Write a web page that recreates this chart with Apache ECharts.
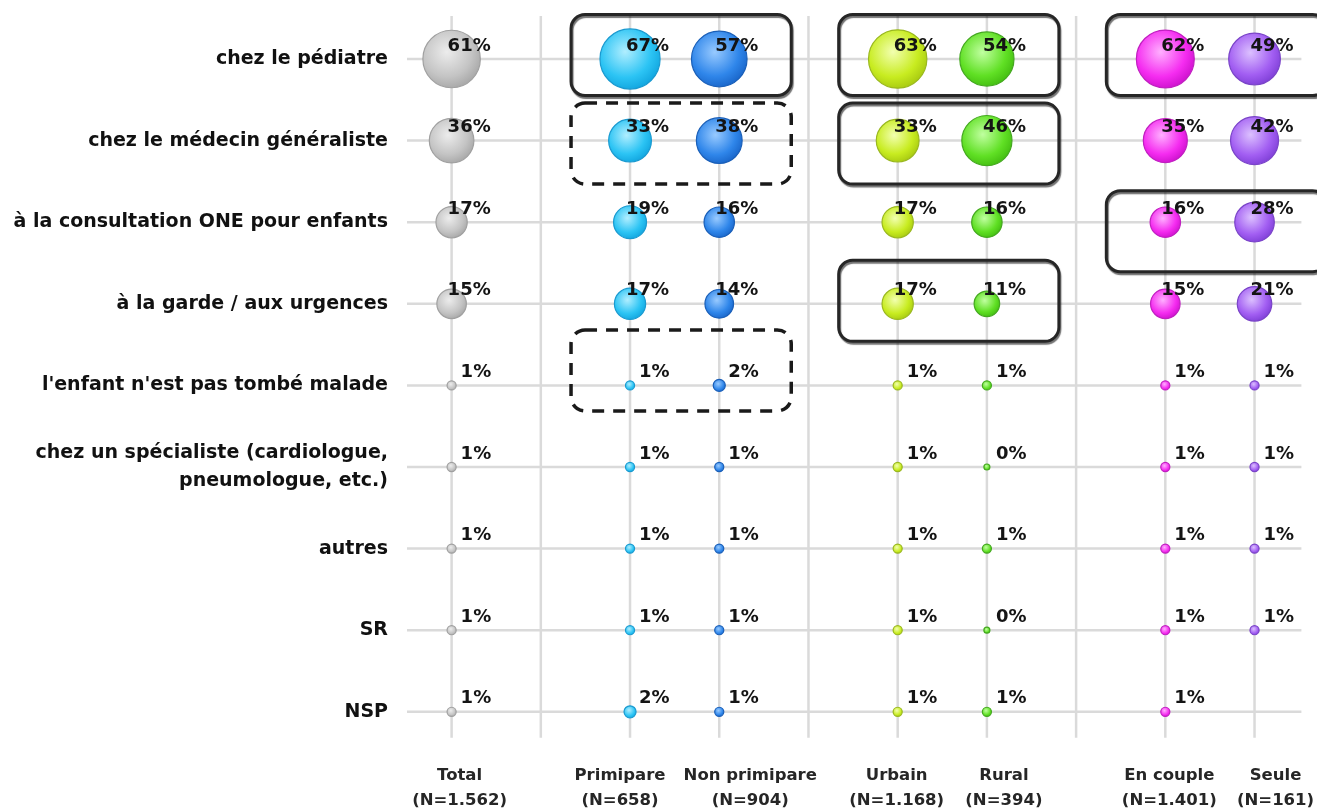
<!DOCTYPE html>
<html>
<head>
<meta charset="utf-8">
<script src="https://cdn.jsdelivr.net/npm/echarts@6/dist/echarts.min.js"></script>
<style>
html,body{margin:0;padding:0;background:#fff;}
#c{width:1317px;height:812px;}
</style>
</head>
<body>
<div id="c"></div>
<script>
// ---- data ----
const rowLabels = [
  'chez le pédiatre',
  'chez le médecin généraliste',
  'à la consultation ONE pour enfants',
  'à la garde / aux urgences',
  "l'enfant n'est pas tombé malade",
  'chez un spécialiste (cardiologue,\npneumologue, etc.)',
  'autres',
  'SR',
  'NSP'
];
const colLabels = ['Total', 'Primipare', 'Non primipare', 'Urbain', 'Rural', 'En couple', 'Seule'];
const colN = ['(N=1.562)', '(N=658)', '(N=904)', '(N=1.168)', '(N=394)', '(N=1.401)', '(N=161)'];
const total      = [61, 36, 17, 15, 1, 1, 1, 1, 1];
const primipare  = [67, 33, 19, 17, 1, 1, 1, 1, 2];
const nonPrim    = [57, 38, 16, 14, 2, 1, 1, 1, 1];
const urbain     = [63, 33, 17, 17, 1, 1, 1, 1, 1];
const rural      = [54, 46, 16, 11, 1, 0, 1, 0, 1];
const enCouple   = [62, 35, 16, 15, 1, 1, 1, 1, 1];
const seule      = [49, 42, 28, 21, 1, 1, 1, 1, null];
const columns = [total, primipare, nonPrim, urbain, rural, enCouple, seule];
// highlighted groups: row, first column, last column, dashed
const groups = [
  {row: 0, from: 1, to: 2, dashed: false},
  {row: 1, from: 1, to: 2, dashed: true},
  {row: 0, from: 3, to: 4, dashed: false},
  {row: 1, from: 3, to: 4, dashed: false},
  {row: 3, from: 3, to: 4, dashed: false},
  {row: 0, from: 5, to: 6, dashed: false},
  {row: 2, from: 5, to: 6, dashed: false},
  {row: 4, from: 1, to: 2, dashed: true}
];

// ---- layout / style ----
const FONT = 'DejaVu Sans, Verdana, sans-serif';
const slotOfCol = [0, 2, 3, 5, 6, 8, 9];
const labelShift = [8, -10, 31, -1, 17, 4, 21];
const nSlots = 10;
const xSlots = [];
for (let i = 0; i < nSlots; i++) xSlots.push('s' + i);
const palette = [
  {base: '#c4c4c4', light: '#ececec', dark: '#a6a6a6', border: '#a0a0a0'},
  {base: '#2cc4f4', light: '#b0eeff', dark: '#10a4de', border: '#1a9ad0'},
  {base: '#2f86ea', light: '#98caff', dark: '#1864c8', border: '#1a5fb8'},
  {base: '#c8ec20', light: '#f2ffb0', dark: '#a6c810', border: '#9ab820'},
  {base: '#60e024', light: '#c0ffa0', dark: '#42bc10', border: '#44a820'},
  {base: '#f52cf0', light: '#ffb0ff', dark: '#cc10cc', border: '#c020c0'},
  {base: '#a25ef2', light: '#dcc0ff', dark: '#7e3ed6', border: '#7a44c8'}
];
const groupShift = [-4, 3, -4, 3, -3, -4, 9, -15];
const sizeOf = v => Math.max(6, 2 + 7.1 * Math.sqrt(v));

const series = columns.map((vals, c) => {
  const col = palette[c];
  const data = [];
  vals.forEach((v, r) => {
    if (v === null || v === undefined) return;
    const s = sizeOf(v);
    data.push({
      value: [slotOfCol[c], r, v],
      label: {offset: [s < 16 ? 9 : -4, -13]}
    });
  });
  return {
    type: 'scatter',
    name: colLabels[c],
    data: data,
    symbolSize: val => sizeOf(val[2]),
    itemStyle: {
      color: {
        type: 'radial', x: 0.42, y: 0.38, r: 0.65,
        colorStops: [
          {offset: 0, color: col.light},
          {offset: 0.65, color: col.base},
          {offset: 1, color: col.dark}
        ]
      },
      borderColor: col.border,
      borderWidth: 1.2,
      opacity: 1
    },
    label: {
      show: true,
      position: 'inside',
      align: 'left',
      verticalAlign: 'middle',
      formatter: p => p.value[2] + '%',
      fontFamily: FONT,
      fontSize: 18,
      fontWeight: 'bold',
      color: '#141414'
    },
    emphasis: {disabled: true},
    z: 5
  };
});

const rich = {};
labelShift.forEach((dx, c) => {
  const pad = dx >= 0 ? [0, 0, 0, 2 * dx] : [0, -2 * dx, 0, 0];
  const st = {fontFamily: FONT, fontSize: 16.5, fontWeight: 'bold', color: '#262626', lineHeight: 25, padding: pad};
  rich['a' + c] = st;
  rich['b' + c] = Object.assign({}, st);
});

const chart = echarts.init(document.getElementById('c'), null, {renderer: 'canvas'});
chart.setOption({
  animation: false,
  backgroundColor: '#ffffff',
  grid: {left: 407, right: 15.6, top: 18.2, bottom: 59.4, containLabel: false},
  xAxis: {
    type: 'category',
    data: xSlots,
    boundaryGap: true,
    axisLine: {show: false},
    axisTick: {show: false},
    splitLine: {show: false},
    axisLabel: {
      interval: 0,
      margin: 11,
      formatter: (val, idx) => {
        const c = slotOfCol.indexOf(idx);
        if (c < 0) return '';
        return '{a' + c + '|' + colLabels[c] + '}\n{b' + c + '|' + colN[c] + '}';
      },
      rich: rich
    }
  },
  yAxis: {
    type: 'category',
    data: rowLabels,
    inverse: true,
    boundaryGap: true,
    axisLine: {show: false},
    axisTick: {show: false},
    splitLine: {show: false},
    axisLabel: {
      interval: 0,
      margin: 19,
      fontFamily: FONT,
      fontSize: 19,
      fontWeight: 'bold',
      color: '#111',
      lineHeight: 28,
      align: 'right'
    }
  },
  series: series
});

// grid lines and group frames, positioned through the chart's own scales
const px = slot => chart.convertToPixel({xAxisIndex: 0}, slot);
const py = row => chart.convertToPixel({yAxisIndex: 0}, row);
const gridLeft = 407, gridRight = 1317 - 15.6;
const lineColor = '#dadada';
const elements = [];
const topY = py(0) - 43;
const botY = py(rowLabels.length - 1) + 26;
for (let i = 0; i < nSlots; i++) {
  const x = px(i);
  elements.push({type: 'line', shape: {x1: x, y1: topY, x2: x, y2: botY},
    style: {stroke: lineColor, lineWidth: 2.5}, z: 0, silent: true});
}
for (let r = 0; r < rowLabels.length; r++) {
  const y = py(r);
  elements.push({type: 'line', shape: {x1: gridLeft, y1: y, x2: gridRight, y2: y},
    style: {stroke: lineColor, lineWidth: 2.5}, z: 0, silent: true});
}
groups.forEach((g, k) => {
  const x1 = px(slotOfCol[g.from]) - 59;
  const x2 = px(slotOfCol[g.to]) + 72;
  const cy = py(g.row) + groupShift[k];
  const h = 81;
  elements.push({
    type: 'rect',
    shape: {x: x1, y: cy - h / 2, width: x2 - x1, height: h, r: 14},
    style: g.dashed ? {
      fill: 'none', stroke: '#1a1a1a', lineWidth: 3.5, lineDash: [12, 9]
    } : {
      fill: 'none', stroke: '#262626', lineWidth: 3,
      shadowColor: 'rgba(0,0,0,0.55)', shadowOffsetX: 1, shadowOffsetY: 2, shadowBlur: 1
    },
    z: 10, silent: true
  });
});
chart.setOption({graphic: {elements: elements}});
</script>
</body>
</html>
